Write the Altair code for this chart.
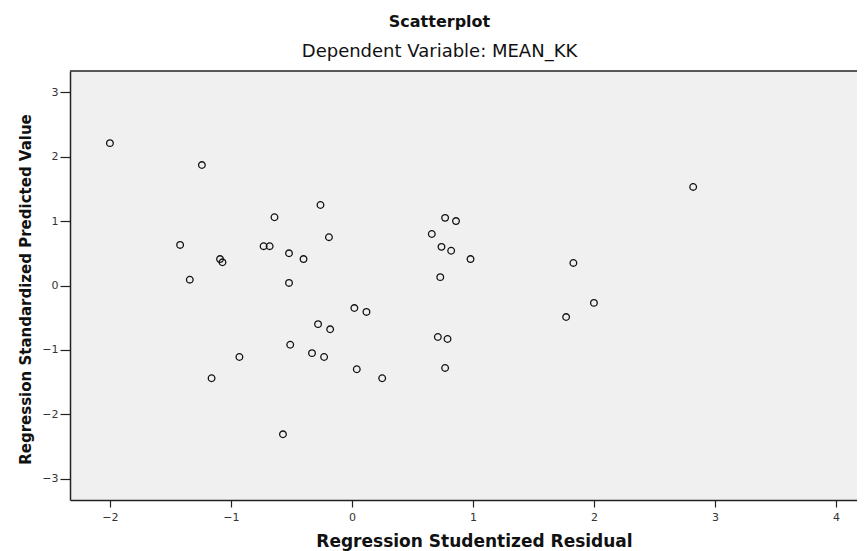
import altair as alt
import pandas as pd

# Regression Studentized Residual (x) and Regression Standardized Predicted Value (y)
residual = [-2.00, -1.24, -0.64, -0.26, -1.42, -0.73, -0.68, -0.19, 0.66, 0.77,
            0.86, 0.74, 0.82, 0.98, 0.73, -1.09, -1.07, -0.52, -0.40, -1.34,
            -0.52, 1.83, 2.82,
            0.02, 0.12, -0.28, -0.18, -0.51, -0.33, -0.23, -0.93, -1.16,
            0.04, 0.25, 0.71, 0.79, 0.77, 1.77, 2.00, -0.57]
predicted = [2.21, 1.87, 1.06, 1.25, 0.63, 0.61, 0.61, 0.75, 0.80, 1.05,
             1.00, 0.60, 0.54, 0.41, 0.13, 0.41, 0.36, 0.50, 0.41, 0.09,
             0.04, 0.35, 1.53,
             -0.35, -0.41, -0.60, -0.68, -0.92, -1.05, -1.11, -1.11, -1.44,
             -1.30, -1.44, -0.80, -0.83, -1.28, -0.49, -0.27, -2.31]
x_ticks = [-2, -1, 0, 1, 2, 3, 4]
y_ticks = [-3, -2, -1, 0, 1, 2, 3]

df = pd.DataFrame({"resid": residual, "pred": predicted})

W, H = 787, 429
xscale = alt.Scale(domain=[-2.33, 4.174], nice=False, zero=False)
yscale = alt.Scale(domain=[-3.33, 3.33], nice=False, zero=False)

points = alt.Chart(df).mark_point(
    shape="circle", filled=False, size=44, strokeWidth=1.3, color="#111", opacity=1
).encode(
    x=alt.X("resid:Q", scale=xscale,
            axis=alt.Axis(values=x_ticks, title="Regression Studentized Residual",
                          tickSize=7, labelPadding=4,
                          titleFont="DejaVu Sans", titleFontSize=17, titleFontWeight="bold",
                          titleColor="#111", titleX=404, titleY=46,
                          titleBaseline="alphabetic", titleAlign="center")),
    y=alt.Y("pred:Q", scale=yscale,
            axis=alt.Axis(values=y_ticks, title="Regression Standardized Predicted Value",
                          tickSize=10, labelPadding=2,
                          titleFont="DejaVu Sans", titleFontSize=15, titleFontWeight="bold",
                          titleColor="#111", titleX=-40, titleY=218, titleAngle=270,
                          titleBaseline="alphabetic", titleAlign="center")),
)

frame_df = pd.DataFrame({"k": [0]})
top_line = alt.Chart(frame_df).mark_rule(color="#222", strokeWidth=1.5).encode(
    x=alt.value(0), x2=alt.value(W), y=alt.value(0)
)

chart = alt.layer(points, top_line).properties(
    width=W, height=H,
    title=alt.TitleParams(
        text="Scatterplot", subtitle="Dependent Variable: MEAN_KK",
        font="DejaVu Sans", fontSize=16, fontWeight="bold", color="#111",
        subtitleFont="DejaVu Sans", subtitleFontSize=18, subtitleColor="#111",
        anchor="middle", dx=-24, offset=9, subtitlePadding=13, frame="group"),
    autosize=alt.AutoSizeParams(type="none"),
    padding={"left": 62, "top": 63, "right": 0, "bottom": 51},
).configure_view(
    fill="#f0f0f0", strokeOpacity=0
).configure_axis(
    grid=False, domainColor="#222", domainWidth=1.5, tickColor="#222", tickWidth=1.2,
    labelFont="DejaVu Sans", labelFontSize=11, labelColor="#333"
)

chart.save("out.html", embed_options={"renderer": "svg", "actions": False})
